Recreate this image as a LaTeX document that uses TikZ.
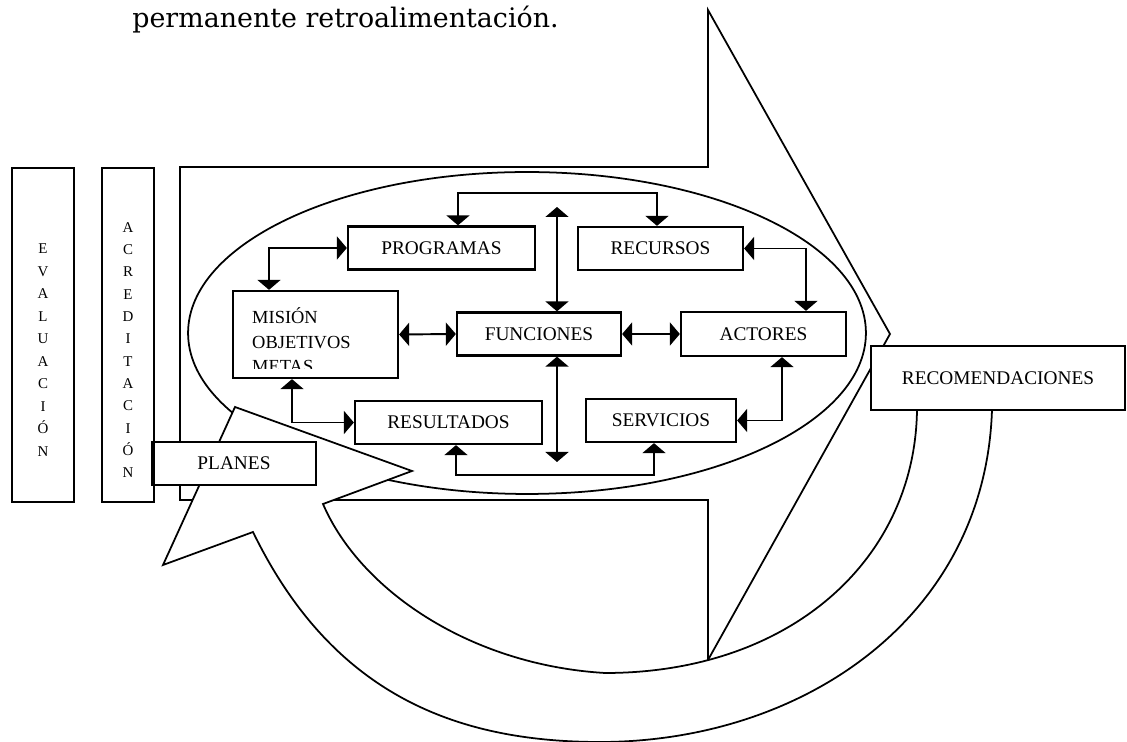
\documentclass[tikz,border=0pt]{standalone}
\usepackage{fontspec}
\setmainfont{Liberation Serif}
\newfontfamily\textofont{DejaVu Serif}
\usetikzlibrary{arrows.meta}

\begin{document}
\begin{tikzpicture}[x=0.02cm, y=-0.02cm,
  caja/.style={rectangle, draw=black, line width=1.3pt, fill=white, minimum width=3.3cm, minimum height=0.86cm, text centered, font=\fontsize{11}{13}\selectfont},
  columna/.style={rectangle, draw=black, line width=1.3pt, minimum height=6.68cm},
  enlace/.style={<->, line width=1.1pt, >={Triangle[width=0.46cm,length=0.2cm]}},
  contorno/.style={draw=black, line width=1pt, fill=white}]
\useasboundingbox (0,0) rectangle (1127,742);

\node[anchor=base west, inner sep=0pt, font=\textofont\fontsize{15.3}{18}\selectfont] (texto) at (132,28) {permanente retroalimentación.};

% flecha grande y elipse
\path[contorno] (180,167) -- (708,167) -- (708,10) -- (890,334) -- (708,660) -- (708,500) -- (180,500) -- cycle;
\draw[line width=1pt] (527,333) ellipse [x radius=6.78cm, y radius=3.22cm];

\node[caja, minimum width=3.74cm] (programas) at (441.5,248) {PROGRAMAS};
\node[caja] (recursos) at (660.5,248.5) {RECURSOS};
\node[caja, minimum height=1.74cm] (mision) at (315.5,334.5) {};
\node[caja, minimum width=3.28cm] (funciones) at (539,334) {FUNCIONES};
\node[caja, minimum height=0.88cm] (actores) at (763.5,334) {ACTORES};
\node[caja, minimum width=3.74cm] (resultados) at (448.5,422.5) {RESULTADOS};
\node[caja, minimum width=3cm] (servicios) at (661,420.5) {SERVICIOS};

\begin{scope}
\clip (mision.north west) rectangle ([yshift=0.22cm]mision.south east);
\node[anchor=base west, align=left, inner sep=0pt, font=\fontsize{10.5}{14}\selectfont] (lema) at ([xshift=0.4cm, yshift=-1.66cm]mision.north west) {MISIÓN\\OBJETIVOS\\METAS};
\end{scope}

\coordinate (tope) at (557,207);
\coordinate (fondo) at (557,462);

\draw[enlace] ([xshift=0.33cm]programas.north) -- ++(0,-32) -| ([xshift=-0.07cm]recursos.north);
\draw[enlace] (tope) -- (tope |- funciones.north);
\draw[enlace] (programas.west) -| ([xshift=-0.93cm]mision.north);
\draw[enlace] (mision.east) -- (funciones.west);
\draw[enlace] (funciones.east) -- (actores.west);
\draw[enlace] (recursos.east) -| ([xshift=0.85cm]actores.north);
\draw[enlace] ([xshift=0.37cm]actores.south) |- (servicios.east);
\draw[enlace] (fondo |- funciones.south) -- (fondo);
\draw[enlace] ([xshift=0.15cm]resultados.south) -- ++(0,30) -| ([xshift=-0.14cm]servicios.south);
\draw[enlace] ([xshift=-0.47cm]mision.south) |- (resultados.west);

% flecha curva de retorno
\path[contorno] (992,410) .. controls (985,620) and (800,742) .. (600,742)
  .. controls (450,742) and (330,690) .. (253,532)
  -- (163,565) -- (235,407) -- (412,471) -- (323,504)
  .. controls (360,590) and (470,665) .. (605,673)
  .. controls (790,673) and (915,560) .. (917,410) -- cycle;

\node[caja, minimum width=3.28cm] (planes) at (234,463.5) {PLANES};
\node[caja, minimum width=5.08cm, minimum height=1.28cm] (recomendaciones) at (998,378) {RECOMENDACIONES};

\node[columna, minimum width=1.24cm, label={[yshift=-0.3cm, align=center, font=\fontsize{8.5}{12.8}\selectfont]center:E\\V\\A\\L\\U\\A\\C\\I\\Ó\\N}] (evaluacion) at (43,335) {};
\node[columna, minimum width=1.04cm, label={[yshift=-0.3cm, align=center, font=\fontsize{8.5}{12.7}\selectfont]center:A\\C\\R\\E\\D\\I\\T\\A\\C\\I\\Ó\\N}] (acreditacion) at (128,335) {};

\end{tikzpicture}
\end{document}
